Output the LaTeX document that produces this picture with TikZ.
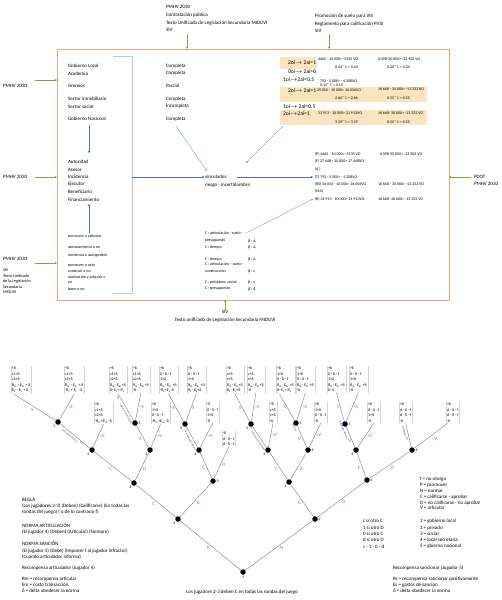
\documentclass[tikz,border=0pt]{standalone}
\usepackage{fontspec}
\setmainfont{Carlito}
\usetikzlibrary{arrows.meta,calc}
\definecolor{boxor}{RGB}{238,164,118}
\definecolor{grn}{RGB}{112,173,71}
\definecolor{blu}{RGB}{68,114,196}
\definecolor{lblu}{RGB}{110,150,205}
\definecolor{brk}{RGB}{184,202,232}
\definecolor{beige}{RGB}{252,228,190}
\definecolor{redl}{RGB}{235,85,65}
\definecolor{edgec}{RGB}{125,125,125}
\definecolor{bluet}{RGB}{70,95,200}
\newcommand{\myRm}{R\textsubscript{m}}
\newcommand{\myEm}{E\textsubscript{m}}
\newcommand{\myRs}{R\textsubscript{s}}
\newcommand{\myEs}{E\textsubscript{s}}
\newcommand{\myarr}{\ensuremath{\rightarrow}}
\begin{document}
\begin{tikzpicture}[x=1pt,y=-1pt,
  every node/.style={inner sep=0pt,outer sep=0pt},
  tA/.style={anchor=west,font=\fontsize{5}{7.6}\selectfont},
  tB/.style={anchor=west,font=\fontsize{4}{5.5}\selectfont},
  tK/.style={anchor=west,font=\fontsize{5.6}{7}\selectfont},
  tL/.style={anchor=north west,align=left,font=\fontsize{5}{6}\selectfont},
  blk/.style={anchor=north west,align=left},
  garr/.style={draw=grn,line width=0.6pt,-{Stealth[length=2.4pt,width=2.4pt]}},
  barr/.style={draw=blu,line width=0.6pt,-{Stealth[length=2.4pt,width=2.4pt]}},
  larr/.style={draw=lblu,line width=0.35pt,-{Stealth[length=2.2pt,width=2pt]}},
  dot/.style={circle,fill=black,minimum size=5.5pt},
  num/.style={font=\fontsize{3.8}{4}\selectfont,inner sep=0.8pt},
  tedge/.style={draw=edgec,line width=0.4pt},
  elbl/.style={font=\fontsize{5}{5}\selectfont,text=redl,inner sep=1pt},
  btxt/.style={font=\fontsize{2.4}{2.8}\selectfont\itshape\bfseries,text=bluet,inner sep=0.3pt},
  leaf/.style={anchor=north west,align=left,font=\fontsize{4}{5.5}\selectfont,inner sep=1pt},
  leafline/.style={draw=gray!35,line width=0.3pt},
]
\useasboundingbox (0,0) rectangle (502,600);
\fill[white] (0,0) rectangle (502,600);

% ---------------- upper part ----------------
\node[draw=boxor,line width=0.8pt,minimum width=392pt,minimum height=251pt,anchor=north west] (frame) at (57,49) {};
\draw[brk,line width=0.8pt] (113,56) -- (132,56) -- (132,293) -- (113,293);

\node[tA,blk,font=\fontsize{5}{7.9}\selectfont] (hdr1) at (166,5) {PMHV 2030\\Contratación pública\\Texto Unificado de Legislación Secundaria MIDUVI\\SIV};
\node[tA,blk,font=\fontsize{5}{7.6}\selectfont] (hdr2) at (315,14) {Promoción de suelo para VIS\\Reglamento para calificación PVIS\\SIV};
\coordinate (g1) at (187,34); \draw[garr] (g1) -- (g1 |- frame.north);
\coordinate (g2) at (329,34); \draw[garr] (g2) -- (g2 |- frame.north);

\node[tA] (lp1) at (3,86) {PMHV 2030};
\coordinate (g3) at (35,80); \draw[garr] (g3) -- (g3 -| frame.west);
\node[tA] (lp2) at (3,177) {PMHV 2030};
\coordinate (g4) at (35,177); \draw[garr] (g4) -- (g4 -| frame.west);
\node[tA] (lp3) at (3,259) {PMHV 2030};
\node[blk,font=\fontsize{4.2}{5.5}\selectfont] (lp4) at (3,269) {SIV\\Texto Unificado\\de la Legislación\\Secundaria\\MIDUVI};
\coordinate (g5) at (35,263); \draw[garr] (g5) -- (g5 -| frame.west);
\node[blk,font=\fontsize{5}{7}\selectfont] (rp) at (474,175) {PDOT\\PMHV 2030};
\coordinate (g6) at (471,177); \draw[garr] (g6) -- (g6 -| frame.east);

\node[tA,anchor=center] (bs) at (225,311.5) {SIV};
\node[tA,anchor=center] (bt) at (225,320) {Texto unificado de Legislación Secundaria MIDUVI};
\draw[garr] ([yshift=-1pt]bs.north) -- (bs.north |- frame.south);

% left column
\foreach \yy/\mytext [count=\i] in {66/Gobierno Local,73.5/Academia,86/Gremios,99/Sector inmobiliario,106.5/Sector social,119/Gobierno Nacional,162/Autoridad,169.5/Asesor,177/Incidencia,184.5/Ejecutor,192/Beneficiario,199.5/Financiamiento}
  \node[tA] (lc\i) at (68,\yy) {\mytext};
\foreach \yy/\mytext [count=\i] in {236/promover o articular,247.5/asesoramiento o no,255/incidencia o autogestión,265.5/promover o usto,271/construir o no,277/motivación y adquirir o,283/no,289/bono o no}
  \node[tB] (ls\i) at (68,\yy) {\mytext};
\coordinate (va1) at (89,125); \coordinate (va2) at (89,153);
\draw[barr] (va1) -- (va2);
\coordinate (vb1) at (89,233); \coordinate (vb2) at (89,204);
\draw[barr] (vb1) -- (vb2);

% middle column
\foreach \yy/\mytext [count=\i] in {66/Completa,73.5/Completa,86/Parcial,99/Completa,106.5/Incompleta,119/Completa}
  \node[tA] (mc\i) at (166,\yy) {\mytext};

\node[tA] (vinc) at (205,177) {vinculados};
\node[tA] (riesgo) at (205,185) {riesgo - incertidumbre};
\coordinate (brmid) at (132,177);
\draw[barr] (brmid) -- ([xshift=-0.5pt]vinc.west);
\coordinate (dA) at (176,126); \coordinate (dAe) at (207,171);
\draw[larr] (dA) -- (dAe);

% highlighted keys
\fill[beige] (280,57) rectangle (317,69);
\fill[beige] (280,87) rectangle (427,102);
\fill[beige] (280,110) rectangle (427,125);
\node[tK] (k1) at (288,62.5) {2oi\myarr{} 2ai=1};
\node[tK] (k2) at (288,72) {0oi\myarr{} 2ai=0};
\node[tK] (k3) at (283,79.5) {1oi\myarr2ai=0.5};
\node[tK] (k4) at (288,91) {2oi\myarr{} 2ai=1};
\node[tK] (k5) at (283,107) {1oi\myarr{} 2ai=0.5};
\node[tK] (k6) at (283,113.5) {2oi\myarr2ai=1};

\node[tB] (v1a) at (318,59) {4465 - 10 000= -5535 VO};
\node[tB] (v1b) at (335,67) {0.44* 1 = 0.44};
\node[tB] (v1c) at (378,59) {6 098-30 000= -23 902 VO};
\node[tB] (v1d) at (387,67) {0.20* 1 = 0.20};
\node[tB] (v2a) at (320,81) {792 - 5 000= - 4 208VO};
\node[tB] (v2b) at (320,85.5) {0.15* 1 = 0.15};
\node[tB] (v3a) at (317,90) {29 056 - 10 000= 16 056VO};
\node[tB] (v3b) at (335,98.5) {2.66* 1 = 2.66};
\node[tB] (v3c) at (378,89.5) {16 668 - 30 000= -13 332 VO};
\node[tB] (v3d) at (387,98.5) {0.55* 1 = 0.55};
\node[tB] (v4a) at (318,113) {31 913 - 10 000= 21 913VO};
\node[tB] (v4b) at (335,122) {3.19* 1 = 3.19};
\node[tB] (v4c) at (378,113) {16 668- 30 000= -13 332 VO};
\node[tB] (v4d) at (387,122) {0.55* 1 = 0.55};

% right middle list
\node[tB] (rP) at (315,154) {(P) 4465 - 10 000= -5535 VO};
\node[tB] (rP2) at (380,154) {6 098-30 000= -23 902 VO};
\node[tB] (rF) at (315,161) {(F) 27 448 - 10 000= 17 448VO};
\node[tB] (rA) at (315,169) {(A )};
\node[tB] (rT) at (315,177) {(T) 792 - 5 000= - 4 208VO};
\node[tB] (rRS) at (315,184) {(RS) 26 656 - 10 000= 16 656VO};
\node[tB] (rRS2) at (378,184) {16 668 - 30 000= -13 332 VO};
\node[tB] (rMA) at (315,191) {(MA)};
\node[tB] (rR) at (315,199) {(R) 31 913 - 10 000= 21 913VO};
\node[tB] (rR2) at (378,199) {16 668- 30 000= -13 332 VO};

\draw[barr] ([xshift=10pt]vinc.east) -- ([xshift=-2pt]rT.west);
\coordinate (hb) at (283,126); \coordinate (hbe) at (246,163);
\draw[larr] (hb) -- (hbe);

% C list
\node[tB] (c1) at (205,233) {C : articulación - suelo -};
\node[tB] (c2) at (205,241) {presupuesto};
\node[tB] (c3) at (205,247) {C : tiempo};
\node[tB] (c4) at (205,259) {C : tiempo};
\node[tB] (c5) at (205,264.5) {C : articulación – suelo -};
\node[tB] (c6) at (205,271) {construcción};
\node[tB] (c7) at (205,282) {C : préstamo, social};
\node[tB] (c8) at (205,289) {C : presupuesto};
\node[tB] (b1) at (248,241) {β : Δ};
\node[tB] (b2) at (248,247) {β : Δ};
\node[tB] (b3) at (248,259) {β : Δ};
\node[tB] (b4) at (248,271) {β : ε};
\node[tB] (b5) at (248,282) {β : ε};
\node[tB] (b6) at (248,289) {β : Δ};
\draw[larr] ([xshift=3pt]c1.east) -- ([xshift=-2pt]rR.west);

% ---------------- game tree ----------------
\node[dot,label={[num]below:1}] (r1) at (243,572) {};
\node[dot,label={[num]below left:2}] (n2L) at (178,519) {};
\node[dot,label={[num]right:2}] (n2R) at (315,519) {};
\node[dot,label={[num]below left:3}] (n3a) at (134,483) {};
\node[dot,label={[num]right:3}] (n3b) at (213,481) {};
\node[dot,label={[num]below left:3}] (n3c) at (289,482) {};
\node[dot,label={[num]right:3}] (n3d) at (367,480) {};
\node[dot,label={[num]below left:4}] (n4a) at (92,450) {};
\node[dot,label={[num]below left:4}] (n4b) at (150,450) {};
\node[dot,label={[num]below left:4}] (n4c) at (199,450) {};
\node[dot,label={[num]below left:4}] (n4d) at (268,450) {};
\node[dot,label={[num]right:4}] (n4e) at (308,450) {};
\node[dot,label={[num]below left:4}] (n4f) at (356,450) {};
\node[dot,label={[num]right:4}] (n4g) at (412,450) {};
\node[dot,label={[num]below left:5}] (n5a) at (58,422) {};
\node[dot,label={[num]right:5}] (n5b) at (135,423) {};
\node[dot,label={[num]below left:5}] (n5c) at (185,424) {};
\node[dot,label={[num]below left:5}] (n5d) at (251,424) {};
\node[dot,label={[num]right:5}] (n5e) at (296,423) {};
\node[dot,label={[num]right:5}] (n5f) at (345,424) {};

% leaves, upper row
\node[leaf] (L1) at (11,366) {+δ\\c1+δ\\c2+δ\\\myRm{} - \myEm{} + δ\\\myRs{} - \myEs{} + δ};
\node[leaf] (L2) at (64,366) {+δ\\c1+δ\\c2+δ\\\myRm{} - \myEm{} + δ\\-\myRs{} + \myEs{} - δ};
\node[leaf] (L4) at (109,366) {+δ\\c1+δ\\c2+δ\\\myRm{}- \myEm{}+δ\\δ- \myEs{}+ \myRs};
\node[leaf] (L5) at (132,366) {+δ\\c1+δ\\c2+δ\\\myRm{}- \myEm{}+δ\\-δ};
\node[leaf] (L7) at (159,366) {+δ\\0 - δ - f\\1+δ\\\myRm{}- \myEm{} +δ\\-\myRs{}+\myEs{}-δ};
\node[leaf] (L8) at (187,366) {+δ\\0 - δ - f\\1+δ\\\myRm{}- \myEm{} +δ\\\myRs{}- \myEs{}+δ};
\node[leaf] (L11) at (226,366) {+δ\\c+δ\\c+δ\\\myRm{}- \myEm{}+δ\\\myRs{}- \myEs{}+δ};
\node[leaf] (L12) at (247,366) {+δ\\c+δ\\c+δ\\\myRm{}- \myEm{}+δ\\-δ};
\node[leaf] (L14) at (276,366) {+δ\\1+δ\\0 - δ - f\\\myRm{}- \myEm{} +δ\\δ- \myEs{}+ \myRs};
\node[leaf] (L15) at (296,366) {+δ\\1+δ\\0 - δ - f\\\myRm{}- \myEm{} +δ\\-δ};
\node[leaf] (L17) at (327,366) {+δ\\0 - δ - f\\1+δ\\\myRm{}- \myEm{} +δ\\δ- δ};
\node[leaf] (L18) at (349,366) {+δ\\0 - δ - f\\1+δ\\\myRm{}- \myEm{} +δ\\-δ};
% leaves, lower row
\node[leaf] (L3) at (94,402) {+δ\\c1+δ\\c2+δ\\-\myRm+\myEm--δ};
\node[leaf] (L6) at (151,402) {+δ\\1+δ\\0 - δ - f\\-\myRm+\myEm--δ};
\node[leaf] (L9) at (206,402) {-δ\\0 - δ - f\\1+δ\\-δ};
\node[leaf] (L13) at (269,402) {+δ\\c+δ\\c+δ\\-δ};
\node[leaf] (L16) at (314,402) {+δ\\1+δ\\0 - δ - f\\-δ};
\node[leaf] (L19) at (367,402) {+δ\\0 - δ - f\\1+δ\\-δ};
\node[leaf] (L20) at (399,402) {+δ\\d - 0 - f\\d - 0 - f\\-δ};
\node[leaf] (L21) at (446,402) {+δ\\d - δ - f\\d - δ - f\\-δ};
\node[leaf] (L10) at (222,431) {-δ\\d - δ - f\\d - δ - f};
\foreach \L in {L1,L2,L3,L4,L5,L6,L7,L8,L9,L10,L11,L12,L13,L14,L15,L16,L17,L18,L19,L20,L21}
  \draw[leafline] (\L.north west) -- (\L.south west) (\L.north east) -- (\L.south east);

% edges
\draw[tedge] (r1) -- node[elbl,below left] {P} (n2L);
\draw[tedge] (r1) -- node[elbl,below right] {N} (n2R);
\draw[tedge] (n2L) -- node[elbl,below left] {C} (n3a);
\draw[tedge] (n2L) -- node[elbl,below right] {D} (n3b);
\draw[tedge] (n2R) -- node[elbl,below left] {C} (n3c);
\draw[tedge] (n2R) -- node[elbl,below right] {D} (n3d);
\draw[tedge] (n3a) -- node[elbl,below left] {C} (n4a);
\draw[tedge] (n3a) -- node[elbl,below right] {D} (n4b);
\draw[tedge] (n3b) -- node[elbl,below left] {C} (n4c);
\draw[tedge] (n3b) -- node[elbl,below right] {D} (L10.south);
\draw[tedge] (n3c) -- node[elbl,below left] {C} (n4d);
\draw[tedge] (n3c) -- node[elbl,below right] {D} (n4e);
\draw[tedge] (n3d) -- node[elbl,below left] {C} (n4f);
\draw[tedge] (n3d) -- node[elbl,below right] {D} (n4g);

\draw[tedge] (n4a) -- node[elbl,pos=0.2,left] {V} node[btxt,pos=0.6,sloped,below=2pt] {articulador informa} (n5a);
\draw[tedge] (n4a) -- node[elbl,right] {¬V} (L3.south);
\draw[tedge] (n4b) -- node[elbl,below left] {V} (n5b);
\draw[tedge] (n4b) -- node[elbl,right] {¬V} (L6.south);
\draw[tedge] (n4c) -- node[elbl,pos=0.8,left] {V} node[btxt,pos=0.35,sloped,below=2pt] {articulador informa} (n5c);
\draw[tedge] (n4c) -- node[elbl,right] {¬V} (L9.south);
\draw[tedge] (n4d) -- node[elbl,pos=0.92,left] {V} node[btxt,pos=0.38,sloped,below=2pt] {informa al sancionador} (n5d);
\draw[tedge] (n4d) -- node[elbl,right] {¬V} (L13.south);
\draw[tedge] (n4e) -- node[elbl,below left] {V} node[btxt,pos=0.97,sloped,below=2pt] {informa} (n5e);
\draw[tedge] (n4e) -- node[elbl,right] {¬V} (L16.south);
\draw[tedge] (n4f) -- node[elbl,pos=0.3,left] {V} node[btxt,pos=0.9,sloped,below=2.5pt] {articulador informa} (n5f);
\draw[tedge] (n4f) -- node[elbl,right] {¬V} (L19.south);
\draw[tedge] (n4g) -- node[elbl,pos=0.35,left] {V} node[btxt,pos=0.7,sloped,below=2pt] {no informa} (L20.south);
\draw[tedge] (n4g) -- node[elbl,below right] {¬V} ([xshift=-5pt]L21.south);

\draw[tedge] (n5a) -- node[elbl,below left] {S} ([xshift=-8pt]L1.south);
\draw[tedge] (n5a) -- node[elbl,right] {¬S} (L2.south);
\draw[tedge] (n5b) -- node[elbl,pos=0.85,left] {S} node[btxt,pos=0.3,sloped,below=2pt] {informa al sancionador} (L4.south);
\draw[tedge] (n5b) -- node[elbl,right] {¬S} (L5.south);
\draw[tedge] (n5c) -- node[elbl,left] {¬S} (L7.south);
\draw[tedge] (n5c) -- node[elbl,right] {S} (L8.south);
\draw[tedge] (n5d) -- node[elbl,left] {S} (L11.south);
\draw[tedge] (n5d) -- node[elbl,right] {¬S} (L12.south);
\draw[tedge] (n5e) -- node[elbl,left] {S} ([xshift=-6pt]L14.south);
\draw[tedge] (n5e) -- node[elbl,right] {¬S} (L15.south);
\draw[tedge] (n5f) -- node[elbl,left] {S} (L17.south);
\draw[tedge] (n5f) -- node[elbl,right] {¬S} (L18.south);

% legends
\node[tL] (regla) at (22,498.5) {REGLA\\(Los jugadores 2-3) (Deben) (Calificarse) (En todas las\\rondas del juego) ( o de lo contrario f)};
\node[tL] (nart) at (22,523.5) {NORMA ARTICULACIÓN\\(El jugador 4) (Deben) (Articular) (Siempre)};
\node[tL,font=\fontsize{5}{6.4}\selectfont] (nsan) at (22,541.5) {NORMA SANCIÓN\\(El jugador 5) (Debe) (Imponer f al jugador infractor)\\(Cuando articulador informa)};
\node[tL] (rart) at (22,565.5) {Recompensa articulador (Jugador 4)};
\node[tL] (rdef) at (22,577.5) {Rm = recompensa articular\\Em = costo transacción\\δ = delta obedecer la norma};
\node[tL,font=\fontsize{5}{5.8}\selectfont] (leg1) at (420,477.5) {f = no otorga\\P = promover\\N = normar\\C = calificarse - aprobar\\D = no calificarse - no aprobar\\V = articular};
\node[tL,font=\fontsize{5}{6.1}\selectfont] (leg2) at (420,519.5) {1 = gobierno local\\2 = privado\\3 = social\\4 = local secretaria\\5 = gbierno nacional};
\node[tL,font=\fontsize{5}{6.1}\selectfont] (leg3) at (363,519.5) {c si otro C\\1 si otro D\\0 si otro C\\d si otro D\\[1.5pt]c - 1 - 0 - d};
\node[tL] (rsan) at (393,565.5) {Recompensa sancionar (Jugador 5)};
\node[tL] (rsdef) at (393,577.5) {Rs = recompensa sancionar positivamente\\Es = gastos de sanción\\δ = delta obedecer la norma};
\node[font=\fontsize{5}{6}\selectfont] (cap) at (242,592) {Los jugadore 2-3 deben C en todas las rondas del juego};
\end{tikzpicture}
\end{document}
